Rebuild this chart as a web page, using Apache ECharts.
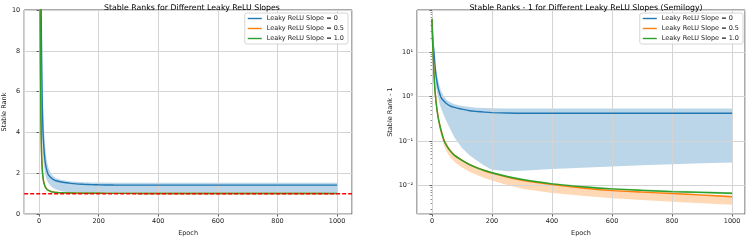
<!DOCTYPE html>
<html><head><meta charset="utf-8">
<script src="https://cdn.jsdelivr.net/npm/echarts@6/dist/echarts.min.js"></script>
<style>html,body{margin:0;padding:0;background:#fff}#c{width:747px;height:242px}</style>
</head><body><div id="c"></div>
<script>
// Data: Stable Rank - 1 per epoch (mean, upper band, lower band)
const epochs = [0, 2, 4, 6, 8, 10, 12, 15, 20, 25, 30, 40, 50, 60, 75, 100, 125, 150, 175, 200, 250, 300, 400, 500, 600, 700, 800, 900, 1000];

const blueMean = [54, 26, 15, 11, 7.5, 5.0, 3.6, 2.5, 1.6, 1.2, 0.96, 0.78, 0.68, 0.62, 0.57, 0.52, 0.48, 0.46, 0.445, 0.435, 0.425, 0.42, 0.42, 0.42, 0.42, 0.42, 0.42, 0.42, 0.42];
const blueHi   = [54, 27, 16, 12.5, 9, 6.5, 5, 3.6, 2.4, 1.7, 1.35, 0.98, 0.82, 0.74, 0.67, 0.61, 0.58, 0.56, 0.55, 0.545, 0.54, 0.54, 0.54, 0.54, 0.54, 0.54, 0.54, 0.54, 0.54];
const blueLo   = [54, 22, 11, 6.5, 4.2, 2.9, 2.1, 1.5, 0.98, 0.7, 0.55, 0.37, 0.26, 0.19, 0.12, 0.07, 0.048, 0.036, 0.028, 0.0225, 0.021, 0.0215, 0.0235, 0.025, 0.0268, 0.0285, 0.030, 0.0315, 0.033];

const orangeMean = [54, 17, 9, 4.2, 2.3, 1.45, 1.0, 0.64, 0.37, 0.25, 0.18, 0.107, 0.078, 0.062, 0.048, 0.037, 0.0295, 0.0248, 0.0215, 0.019, 0.0155, 0.0131, 0.0105, 0.0088, 0.0077, 0.0071, 0.0066, 0.0061, 0.0056];
const orangeHi   = [54, 18, 9.5, 4.4, 2.4, 1.52, 1.05, 0.67, 0.39, 0.262, 0.19, 0.112, 0.082, 0.065, 0.0505, 0.039, 0.031, 0.026, 0.0226, 0.02, 0.0163, 0.0138, 0.011, 0.0093, 0.0081, 0.0075, 0.0069, 0.0064, 0.0059];
const orangeLo   = [54, 15, 7.5, 3.4, 1.85, 1.15, 0.8, 0.5, 0.28, 0.185, 0.132, 0.078, 0.056, 0.044, 0.034, 0.0255, 0.0205, 0.0172, 0.0148, 0.013, 0.0103, 0.0085, 0.0068, 0.0059, 0.0052, 0.0047, 0.0043, 0.0040, 0.0037];

const greenMean = [56, 16, 8.3, 3.9, 2.1, 1.32, 0.93, 0.6, 0.35, 0.238, 0.172, 0.102, 0.076, 0.061, 0.0475, 0.0368, 0.0296, 0.025, 0.0218, 0.0194, 0.016, 0.0137, 0.0109, 0.0094, 0.0084, 0.0078, 0.0073, 0.0070, 0.0067];
const greenHi   = [56, 16.8, 8.7, 4.1, 2.2, 1.39, 0.98, 0.63, 0.367, 0.25, 0.181, 0.107, 0.08, 0.064, 0.05, 0.0386, 0.0311, 0.0263, 0.0229, 0.0204, 0.0168, 0.0144, 0.0114, 0.0099, 0.0088, 0.0082, 0.0077, 0.0074, 0.0071];
const greenLo   = [56, 15.2, 7.9, 3.7, 2.0, 1.25, 0.88, 0.57, 0.333, 0.226, 0.163, 0.097, 0.072, 0.058, 0.0451, 0.035, 0.0281, 0.0238, 0.0207, 0.0184, 0.0152, 0.013, 0.0104, 0.0089, 0.008, 0.0074, 0.0069, 0.0066, 0.0063];

const seriesNames = ['Leaky ReLU Slope = 0', 'Leaky ReLU Slope = 0.5', 'Leaky ReLU Slope = 1.0'];
const titles = ['Stable Ranks for Different Leaky ReLU Slopes', 'Stable Ranks - 1 for Different Leaky ReLU Slopes (Semilogy)'];
const yNames = ['Stable Rank', 'Stable Rank - 1'];
const xName = 'Epoch';
const referenceRank = 1;
const xExtentLeft = [-50, 1050];
const xExtentRight = [-50, 1043];

const colors = ['#1f77b4', '#ff7f0e', '#2ca02c'];
const bandFills = ['rgba(31,119,180,0.3)', 'rgba(255,127,14,0.3)', 'rgba(44,160,44,0.3)'];
const means = [blueMean, orangeMean, greenMean];
const his = [blueHi, orangeHi, greenHi];
const los = [blueLo, orangeLo, greenLo];

const FONT = 'DejaVu Sans';
const txt = '#222';
const supMap = {'-': '⁻', '0': '⁰', '1': '¹', '2': '²', '3': '³', '4': '⁴', '5': '⁵'};
function logLabel(v) {
  const e = Math.round(Math.log10(v));
  return '10' + String(e).split('').map(c => supMap[c]).join('');
}

function bandRenderer(k, offset) {
  return function (params, api) {
    if (params.dataIndex !== 0) return null;
    const pts = [];
    for (let i = 0; i < epochs.length; i++) pts.push(api.coord([epochs[i], his[k][i] + offset]));
    for (let i = epochs.length - 1; i >= 0; i--) pts.push(api.coord([epochs[i], los[k][i] + offset]));
    const cs = params.coordSys;
    return {
      type: 'polygon',
      shape: {points: pts},
      style: {fill: bandFills[k], stroke: null},
      clipPath: {type: 'rect', shape: {x: cs.x, y: cs.y, width: cs.width, height: cs.height}}
    };
  };
}

const series = [];
function addChart(gi, offset) {
  for (let k = 0; k < 3; k++) {
    series.push({
      type: 'custom', xAxisIndex: gi, yAxisIndex: gi, name: '_band' + gi + k,
      data: [[epochs[0], means[k][0] + offset]], silent: true, z: -1,
      renderItem: bandRenderer(k, offset)
    });
    series.push({
      type: 'line', xAxisIndex: gi, yAxisIndex: gi, name: seriesNames[k],
      data: epochs.map((e, i) => [e, means[k][i] + offset]),
      symbol: 'none', smooth: 0.3, z: 3,
      lineStyle: {color: colors[k], width: 1.4}, itemStyle: {color: colors[k]}
    });
  }
}
addChart(0, 1);
addChart(1, 0);
// red dashed reference line at Stable Rank = 1 across the left axes
series.push({
  type: 'line', xAxisIndex: 0, yAxisIndex: 0, name: '_ref',
  data: xExtentLeft.map(x => [x, referenceRank]),
  symbol: 'none', silent: true, z: 6,
  lineStyle: {color: '#ff0000', type: [4, 2], width: 1.5},
  itemStyle: {color: '#ff0000'}
});

const axisLine = {show: false};
const axisTick = {show: true, length: 2.5, lineStyle: {color: '#444', width: 0.8}};
const splitLine = {show: true, lineStyle: {color: '#d4d4d4', width: 1}};
const label = {color: txt, fontSize: 6.5, fontFamily: FONT, margin: 4};
const xLabel = Object.assign({showMinLabel: false, showMaxLabel: false, formatter: v => String(v)}, label);

const grids = [
  {left: 22, top: 10, width: 330, height: 212},
  {left: 417, top: 10, width: 328, height: 212}
];

const option = {
  animation: false,
  textStyle: {fontFamily: FONT},
  title: [
    {text: titles[0], left: 187, top: -1.5, textAlign: 'center', textStyle: {fontSize: 7.8, fontWeight: 'normal', color: '#000', fontFamily: FONT}},
    {text: titles[1], left: 581, top: -1.5, textAlign: 'center', textStyle: {fontSize: 7.8, fontWeight: 'normal', color: '#000', fontFamily: FONT}}
  ],
  legend: [0, 1].map(gi => ({
    data: seriesNames, orient: 'vertical', top: 13, right: gi === 0 ? 399 : 4,
    icon: 'rect', itemWidth: 14, itemHeight: 1.4, itemGap: 3, padding: [2, 4, 2, 3],
    backgroundColor: 'rgba(255,255,255,0.85)', borderColor: '#cccccc', borderWidth: 0.8, borderRadius: 2,
    textStyle: {fontSize: 6.5, color: txt, fontFamily: FONT, lineHeight: 7, height: 7},
    selectedMode: false
  })),
  grid: grids.map(g => Object.assign({show: true, borderColor: '#444', borderWidth: 0.9, backgroundColor: 'transparent'}, g)),
  xAxis: [
    {type: 'value', gridIndex: 0, min: xExtentLeft[0], max: xExtentLeft[1], splitNumber: 5,
     name: xName, nameLocation: 'middle', nameGap: 11.5, nameTextStyle: {fontSize: 6.5, color: txt, fontFamily: FONT},
     axisLine, axisTick, splitLine, axisLabel: xLabel},
    {type: 'value', gridIndex: 1, min: xExtentRight[0], max: xExtentRight[1], splitNumber: 5,
     name: xName, nameLocation: 'middle', nameGap: 11.5, nameTextStyle: {fontSize: 6.5, color: txt, fontFamily: FONT},
     axisLine, axisTick, splitLine, axisLabel: xLabel}
  ],
  yAxis: [
    {type: 'value', gridIndex: 0, min: 0, max: 10, interval: 2,
     name: yNames[0], nameLocation: 'middle', nameRotate: 90, nameGap: 14, nameTextStyle: {fontSize: 6.5, color: txt, fontFamily: FONT},
     axisLine, axisTick, splitLine, axisLabel: label},
    {type: 'log', logBase: 10, gridIndex: 1, min: 0.00228, max: 88,
     name: yNames[1], nameLocation: 'middle', nameRotate: 90, nameGap: 23, nameTextStyle: {fontSize: 6.5, color: txt, fontFamily: FONT},
     axisLine, axisTick, splitLine,
     minorTick: {show: true, splitNumber: 9, length: 1.5, lineStyle: {color: '#444', width: 0.6}},
     axisLabel: Object.assign({showMinLabel: false, showMaxLabel: false, formatter: logLabel}, label)}
  ],
  series
};

const chart = echarts.init(document.getElementById('c'), null, {renderer: 'canvas'});
chart.setOption(option);
</script></body></html>
